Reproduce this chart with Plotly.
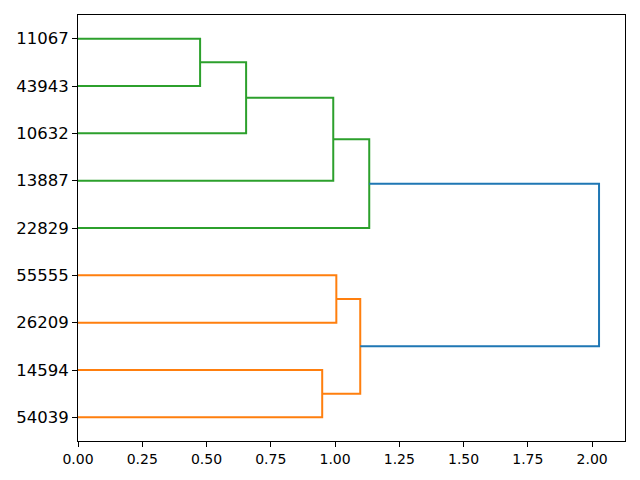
import plotly.graph_objects as go

# Leaves, bottom to top (as plotted by scipy: positions 5, 15, 25, ...)
leaf_labels = ["54039", "14594", "26209", "55555", "22829", "13887", "10632", "43943", "11067"]

# Merge structure: (left child, right child, height, colour)
merge_left = ["11067", "A", "B", "C", "55555", "14594", "E", "D"]
merge_right = ["43943", "10632", "13887", "22829", "26209", "54039", "F", "G"]
merge_height = [0.475, 0.654, 0.993, 1.133, 1.005, 0.950, 1.098, 2.027]
merge_name = ["A", "B", "C", "D", "E", "F", "G", "H"]
merge_color = ["#2ca02c", "#2ca02c", "#2ca02c", "#2ca02c",
               "#ff7f0e", "#ff7f0e", "#ff7f0e", "#1f77b4"]

xtick_vals = [0.0, 0.25, 0.5, 0.75, 1.0, 1.25, 1.5, 1.75, 2.0]

pos = {lab: 5 + 10 * i for i, lab in enumerate(leaf_labels)}
hgt = {lab: 0.0 for lab in leaf_labels}

fig = go.Figure()
for l, r, h, n, c in zip(merge_left, merge_right, merge_height, merge_name, merge_color):
    yl, yr = pos[l], pos[r]
    xs = [hgt[l], h, h, hgt[r]]
    ys = [yl, yl, yr, yr]
    fig.add_trace(go.Scatter(x=xs, y=ys, mode="lines",
                             line=dict(color=c, width=2), hoverinfo="skip",
                             showlegend=False))
    pos[n] = (yl + yr) / 2
    hgt[n] = h

fig.update_layout(
    width=640, height=480,
    margin=dict(l=70, r=23, t=7, b=47, autoexpand=False),
    plot_bgcolor="white", paper_bgcolor="white",
    font=dict(family="DejaVu Sans", color="black"),
    xaxis=dict(range=[0, 2.128], tickvals=xtick_vals, tickformat=".2f",
               ticks="outside", ticklen=5, tickwidth=1, tickcolor="black",
               showline=True, mirror=True, linecolor="black", linewidth=1,
               showgrid=False, zeroline=False, automargin=False,
               tickfont=dict(size=14)),
    yaxis=dict(range=[0, 90], tickvals=[pos[l] for l in leaf_labels],
               ticktext=leaf_labels,
               ticks="outside", ticklen=5, tickwidth=1, tickcolor="black",
               showline=True, mirror=True, linecolor="black", linewidth=1,
               showgrid=False, zeroline=False, automargin=False,
               tickfont=dict(size=16.5)),
)

fig.write_html("out.html")
